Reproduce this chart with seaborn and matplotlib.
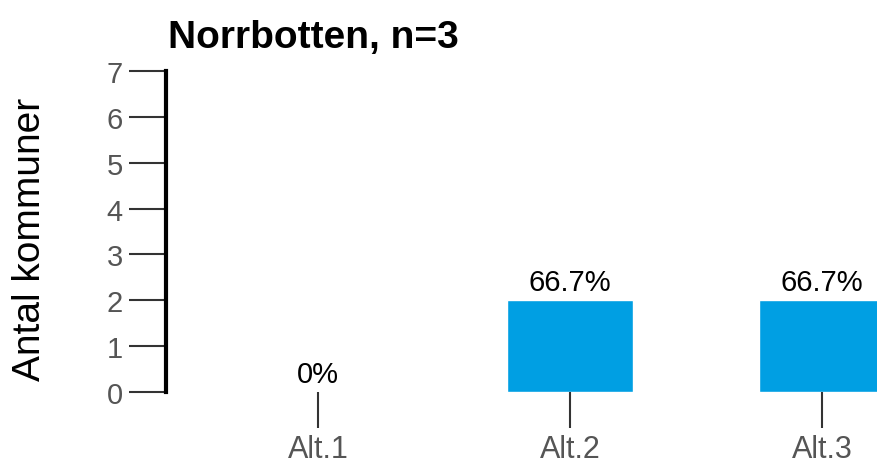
import matplotlib
matplotlib.use("Agg")
import matplotlib.pyplot as plt
import seaborn as sns
import pandas as pd

# Survey answers for Norrbotten
region = "Norrbotten"
n_total = 3
categories = ["Alt.1", "Alt.2", "Alt.3"]
counts = [0, 2, 2]
y_ticks = [0, 1, 2, 3, 4, 5, 6, 7]

df = pd.DataFrame({"alternativ": categories, "antal": counts})

sns.set_theme(style="white")
plt.rcParams["font.family"] = ["Liberation Sans", "DejaVu Sans"]

W, H = 877, 464
fig = plt.figure(figsize=(W / 100, H / 100), dpi=100)
ax = fig.add_axes([166 / W, 71 / H, (W - 166) / W, 321 / H])

sns.barplot(data=df, x="alternativ", y="antal", color="#009FE3",
            saturation=1, width=0.5, ax=ax)

# percentage labels above the bars
labels = []
for c in counts:
    p = round(c / n_total * 100, 1)
    labels.append(f"{p:g}%")
ax.bar_label(ax.containers[0], labels=labels, padding=3, fontsize=21,
             color="black")

ax.set_ylim(0, 7)
ax.set_xlim(-0.603, 2.218)
ax.set_yticks(y_ticks)
ax.set_xlabel("")
ax.set_ylabel("")

for s in ["top", "right", "bottom"]:
    ax.spines[s].set_visible(False)
ax.spines["left"].set_color("black")
ax.spines["left"].set_linewidth(3)

ax.tick_params(axis="y", direction="out", length=27, width=1.5,
               color="#333333", labelcolor="#555555", labelsize=21, pad=4,
               left=True)
ax.tick_params(axis="x", direction="out", length=26, width=1.5,
               color="#333333", labelcolor="#555555", labelsize=22, pad=4,
               bottom=True)

fig.text(30 / W, 1 - 239 / H, "Antal kommuner", rotation=90, ha="center",
         va="center", fontsize=28, color="black")
fig.text(168 / W, 1 - 48 / H, f"{region}, n={n_total}", ha="left",
         va="baseline", fontsize=28, fontweight="bold", color="black")

fig.savefig("out.png", dpi=100)
